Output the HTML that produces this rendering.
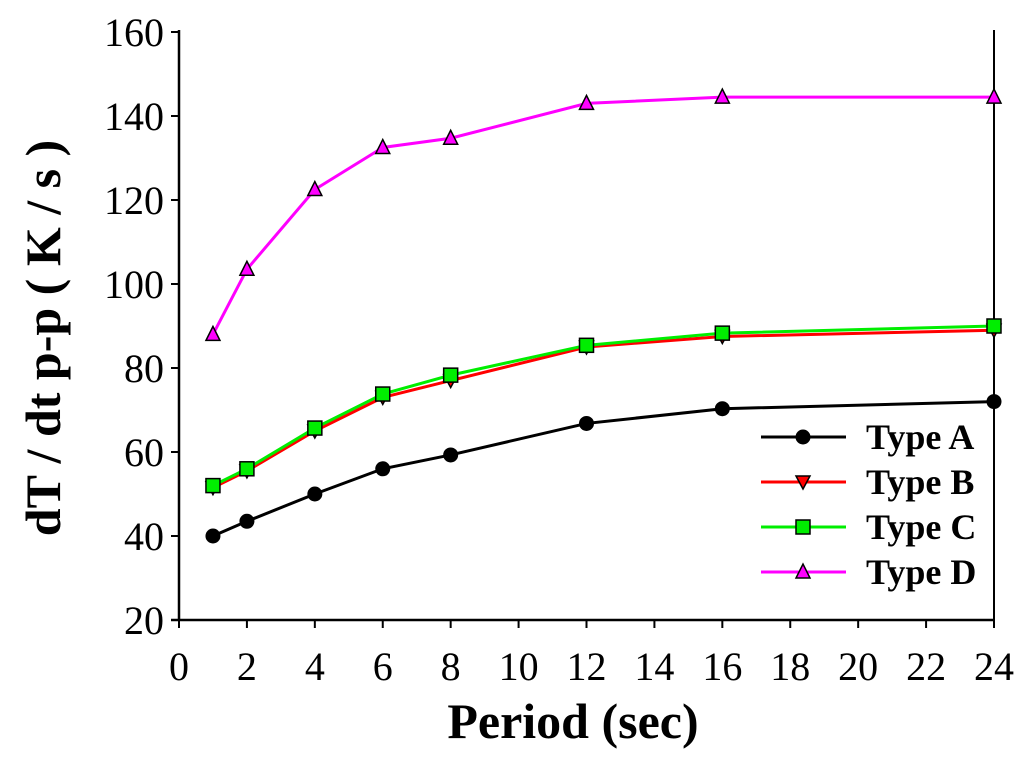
<!DOCTYPE html>
<html><head><meta charset="utf-8"><style>
body{margin:0;background:#fff}
svg text{font-family:"Liberation Serif",serif}
</style></head><body>
<svg id="c" width="1024" height="757" xmlns="http://www.w3.org/2000/svg"></svg>
<script>
const periods=[1,2,4,6,8,12,16,24];
const typeA=[40,43.5,50,56,59.3,66.8,70.3,72];
const typeB=[51.5,55.5,65,73,77,85,87.5,89];
const typeC=[52,56,65.7,73.8,78.3,85.4,88.3,90];
const typeD=[88,103.5,122.5,132.5,134.7,143,144.5,144.5];
const xTicks=[0,2,4,6,8,10,12,14,16,18,20,22,24];
const yTicks=[20,40,60,80,100,120,140,160];
const seriesNames=["Type A","Type B","Type C","Type D"];
const NS="http://www.w3.org/2000/svg";
const svg=document.getElementById('c');
const X=v=>179+(v-0)*(994-179)/24;
const Y=v=>620-(v-20)*(620-32)/140;
function mk(t,a,p){const e=document.createElementNS(NS,t);for(const k in a)e.setAttribute(k,a[k]);(p||svg).appendChild(e);return e;}
let ax=mk('line',{x1:179,y1:30,x2:179,y2:620,stroke:'#000','stroke-width':2.5});

ax=mk('line',{x1:171,y1:620,x2:994,y2:620,stroke:'#000','stroke-width':2.5});

ax=mk('line',{x1:994,y1:30,x2:994,y2:628,stroke:'#000','stroke-width':2});

yTicks.forEach(v=>{
 mk('line',{x1:171,y1:Y(v),x2:179,y2:Y(v),stroke:'#000','stroke-width':2});
 const t=mk('text',{x:164,y:Y(v)+14,'text-anchor':'end','font-size':40});t.textContent=v;
 
});
xTicks.forEach(v=>{
 mk('line',{x1:X(v),y1:620,x2:X(v),y2:628,stroke:'#000','stroke-width':2});
 const t=mk('text',{x:X(v),y:680,'text-anchor':'middle','font-size':40});t.textContent=v;
 
});
let t=mk('text',{x:573,y:738,'text-anchor':'middle','font-size':50,'font-weight':'bold'});t.textContent='Period (sec)';

t=mk('text',{x:0,y:0,'text-anchor':'middle','font-size':50,'font-weight':'bold',transform:'translate(60,338) rotate(-90)'});t.textContent='dT / dt p-p ( K / s )';

const colors=['#000','#ff0000','#00ee00','#ff00ff'];
const data=[typeA,typeB,typeC,typeD];
function marker(k,x,y,g){
 const fill=colors[k];
 if(k==0)return mk('circle',{cx:x,cy:y,r:7.5,fill:'#000'},g);
 if(k==1)return mk('polygon',{points:`${x-7},${y-6} ${x+7},${y-6} ${x},${y+7}`,fill,stroke:'#000','stroke-width':1.5},g);
 if(k==2)return mk('rect',{x:x-7,y:y-7,width:14,height:14,fill,stroke:'#000','stroke-width':1.5},g);
 return mk('polygon',{points:`${x-7},${y+6} ${x+7},${y+6} ${x},${y-8}`,fill,stroke:'#000','stroke-width':1.5},g);
}
[0,1,2,3].forEach(k=>{
 const g=mk('g',{});
 
 
 const pl=mk('polyline',{points:periods.map((p,i)=>X(p)+','+Y(data[k][i])).join(' '),fill:'none',stroke:colors[k],'stroke-width':3},g);
 
 periods.forEach((p,i)=>{const m=marker(k,X(p),Y(data[k][i]),g);
  });
});
const lg=mk('g',{});

seriesNames.forEach((n,k)=>{
 const y=437+k*45;
 const e=mk('g',{},lg);
 
 mk('line',{x1:761,y1:y,x2:846,y2:y,stroke:colors[k],'stroke-width':3},e);
 marker(k,803,y,e);
 const tx=mk('text',{x:866,y:y+12,'font-size':36,'font-weight':'bold'},e);tx.textContent=n;
});
</script>
</body></html>
